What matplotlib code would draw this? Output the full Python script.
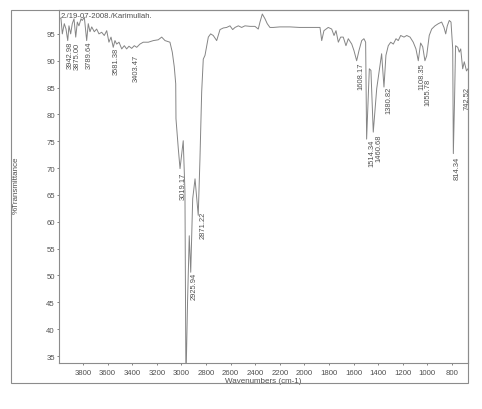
import matplotlib
matplotlib.use('Agg')
import matplotlib.pyplot as plt
from matplotlib.patches import Rectangle

# spectrum (wavenumber in cm-1, %T)
wavenumber = [3995, 3979, 3968, 3952, 3938, 3924, 3914, 3900, 3887, 3873, 3859, 3846, 3833, 3816,
              3806, 3789, 3770, 3757, 3743, 3729, 3708, 3689, 3670, 3648, 3627, 3607, 3589, 3572,
              3554, 3540, 3526, 3507, 3485, 3464, 3445, 3426, 3404, 3383, 3363, 3337, 3310, 3269,
              3228, 3188, 3160, 3133, 3093, 3074, 3058, 3046, 3044, 3025, 3011, 2985, 2971, 2963,
              2950, 2936, 2924, 2908, 2889, 2863, 2849, 2835, 2822, 2808, 2781, 2762, 2741, 2713,
              2686, 2659, 2632, 2605, 2583, 2564, 2537, 2510, 2483, 2442, 2402, 2375, 2361, 2342,
              2320, 2302, 2280, 2253, 2200, 2117, 2040, 1955, 1873, 1859, 1841, 1806, 1778, 1759,
              1743, 1724, 1705, 1684, 1662, 1643, 1615, 1597, 1575, 1556, 1534, 1516, 1502, 1494,
              1483, 1472, 1459, 1440, 1412, 1385, 1372, 1353, 1337, 1318, 1298, 1277, 1255, 1237,
              1217, 1190, 1168, 1141, 1115, 1093, 1074, 1055, 1038, 1020, 1006, 985, 965, 938,
              911, 884, 865, 851, 838, 822, 808, 794, 789, 779, 771, 753, 741, 729, 713, 700,
              682, 670]
transmittance = [98.0, 97.9, 95.0, 96.9, 95.9, 93.75, 96.5, 95.0, 96.9, 97.8, 94.4, 97.2, 96.5, 97.8,
                 97.5, 98.1, 93.75, 96.9, 95.4, 96.3, 95.4, 95.9, 95.0, 95.3, 94.7, 95.6, 93.45, 94.4,
                 92.5, 93.75, 93.1, 93.45, 92.2, 92.8, 92.2, 92.7, 92.3, 92.8, 92.5, 93.1, 93.45, 93.45,
                 93.75, 93.9, 94.4, 93.75, 93.45, 91.6, 88.9, 85.7, 79.2, 73.6, 69.9, 75.1, 65.6, 30.0,
                 45.0, 57.4, 50.6, 64.3, 68.0, 61.2, 71.7, 84.2, 90.3, 91.0, 94.4, 95.0, 94.7, 93.75,
                 95.8, 96.1, 96.2, 96.5, 95.8, 96.2, 96.5, 96.2, 96.5, 96.4, 96.4, 95.9, 97.2, 98.7,
                 97.8, 96.9, 96.2, 96.2, 96.3, 96.3, 96.2, 96.2, 96.2, 93.75, 95.6, 96.2, 95.9, 94.7,
                 95.6, 93.45, 94.4, 94.4, 92.8, 94.1, 93.1, 91.9, 90.0, 91.9, 93.75, 94.1, 93.45, 75.4,
                 82.0, 88.5, 88.2, 76.7, 84.8, 89.1, 91.3, 85.1, 91.0, 92.8, 93.45, 93.1, 94.1, 93.75,
                 94.7, 94.4, 94.7, 94.4, 93.45, 92.2, 90.0, 93.3, 92.6, 90.0, 90.9, 94.7, 95.9, 96.5,
                 96.9, 97.2, 96.2, 95.0, 96.5, 97.5, 97.2, 92.2, 72.7, 82.9, 92.8, 92.5, 91.6, 92.2, 88.5, 89.8,
                 88.1, 88.5]

peak_labels = ['3942.98', '3875.00', '3789.64', '3581.38', '3403.47', '3019.17', '2925.94', '2871.22',
               '1608.17', '1514.34', '1460.68', '1380.82', '1108.35', '1055.78', '814.34', '742.52']
label_x = [3900, 3843, 3751, 3532, 3369, 2985, 2898, 2827, 1542, 1453, 1394, 1310, 1047, 993, 762, 681]
label_top = [93.7, 93.5, 93.7, 92.6, 91.3, 69.3, 50.7, 62.0, 89.8, 75.4, 76.4, 85.3, 89.8, 86.8, 72.3, 85.3]

xticks = list(range(3800, 799, -200))
yticks = list(range(35, 96, 5))

plt.rcParams['font.family'] = ['Liberation Sans', 'DejaVu Sans']
txt = '#505050'
gray = '#8c8c8c'

fig = plt.figure(figsize=(4.82, 4.10), dpi=100)
fig.patches.append(Rectangle((0.0228, 0.0634), 0.948, 0.9098, transform=fig.transFigure,
                             fill=False, edgecolor=gray, linewidth=0.8))
ax = fig.add_axes([0.1224, 0.1122, 0.8485, 0.8610])

ax.plot(wavenumber, transmittance, color='#858585', linewidth=0.7)
ax.set_xlim(3995, 670)
ax.set_ylim(33.7, 99.45)
ax.set_xticks(xticks)
ax.set_yticks(yticks)
ax.tick_params(labelsize=5.6, colors=txt, length=1.5, width=0.5, pad=1.5)
ax.tick_params(axis='x', pad=2.5)
for s in ax.spines.values():
    s.set_color(gray)
    s.set_linewidth(0.8)

for lab, x, y in zip(peak_labels, label_x, label_top):
    ax.text(x, y, lab, rotation=90, ha='center', va='top', fontsize=5.4, color=txt)

ax.text(3985, 98.4, '2./19-07-2008./Karimullah.', fontsize=5.6, color=txt, va='center', ha='left')
ax.set_xlabel('Wavenumbers (cm-1)', fontsize=5.8, color=txt, labelpad=1)
fig.text(0.034, 0.548, '%Transmittance', rotation=90, fontsize=5.8, color=txt, ha='center', va='center')

fig.savefig('out.png', dpi=100, facecolor='white')
